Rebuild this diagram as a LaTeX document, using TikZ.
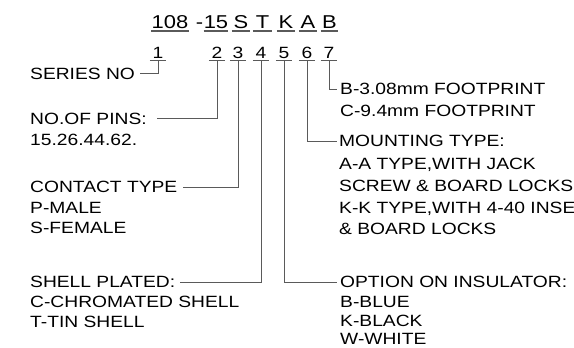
\documentclass[tikz,border=0pt]{standalone}
\usepackage{fontspec}
\setmainfont{Liberation Sans}[FakeStretch=1.18]
\definecolor{lncol}{HTML}{5A5A5A}
\begin{document}
\begin{tikzpicture}[x=1pt,y=-1pt,
  lbl/.style={anchor=west, inner sep=0pt, text height=11.7pt, text depth=0pt, font=\fontsize{16.3}{18}\selectfont, text=black},
  code/.style={anchor=base, inner sep=0pt, font=\fontsize{18.6}{20}\selectfont, text=black},
  num/.style={anchor=base, inner sep=0pt, font=\fontsize{16.3}{18}\selectfont, minimum width=16pt, text height=11.7pt, text depth=0pt, text=black},
  ln/.style={draw=lncol, line width=0.9pt},
  uln/.style={draw=lncol, line width=1.1pt}]
\useasboundingbox[fill=white] (0,0) rectangle (574,348);
% top code row
\node[code, minimum width=36pt] (c108) at (170,28) {108};
\node[code] (cdash) at (199.5,28) {-};
\node[code, minimum width=22pt] (c15) at (216,28) {15};
\node[code, minimum width=18pt] (cS) at (241,28) {S};
\node[code, minimum width=19pt] (cT) at (262.5,28) {T};
\node[code, minimum width=18pt] (cK) at (286,28) {K};
\node[code, minimum width=18pt] (cA) at (308,28) {A};
\node[code, minimum width=17pt] (cB) at (329.5,28) {B};
\foreach \n in {c108,c15,cS,cT,cK,cA,cB}
  \draw[uln] ([yshift=-3pt]\n.base west) -- ([yshift=-3pt]\n.base east);
% digit row
\node[num] (n1) at (158,58) {1};
\node[num] (n2) at (217,58) {2};
\node[num] (n3) at (238,58) {3};
\node[num] (n4) at (261,58) {4};
\node[num] (n5) at (284,58) {5};
\node[num] (n6) at (307,58) {6};
\node[num] (n7) at (329,58) {7};
\foreach \n in {n1,n2,n3,n4,n5,n6,n7}
  \draw[ln] ([yshift=-2.5pt]\n.south west) -- ([yshift=-2.5pt]\n.south east);
% left labels
\node[lbl] (ser) at (30,73.5) {SERIES NO};
\node[lbl] (pins) at (30,118.5) {NO.OF PINS:};
\node[lbl] (pinsv) at (30,140) {15.26.44.62.};
\node[lbl] (ctype) at (30,187) {CONTACT TYPE};
\node[lbl] (male) at (30,207.5) {P-MALE};
\node[lbl] (female) at (30,228) {S-FEMALE};
\node[lbl] (shell) at (30,282) {SHELL PLATED:};
\node[lbl] (chrom) at (30,302) {C-CHROMATED SHELL};
\node[lbl] (tin) at (30,322) {T-TIN SHELL};
% right labels
\node[lbl] (foot1) at (340,89) {B-3.08mm FOOTPRINT};
\node[lbl] (foot2) at (340,111) {C-9.4mm FOOTPRINT};
\node[lbl] (mount) at (339,141) {MOUNTING TYPE:};
\node[lbl] (mA) at (339,164) {A-A TYPE,WITH JACK};
\node[lbl] (mA2) at (339,186) {SCREW \& BOARD LOCKS};
\node[lbl] (mK) at (339,208) {K-K TYPE,WITH 4-40 INSE};
\node[lbl] (mK2) at (339,229) {\& BOARD LOCKS};
\node[lbl] (opt) at (340,282) {OPTION ON INSULATOR:};
\node[lbl] (blue) at (340,301.5) {B-BLUE};
\node[lbl] (black) at (340,320.5) {K-BLACK};
\node[lbl] (white) at (340,339) {W-WHITE};
% connectors
\draw[ln] ([yshift=-2.5pt]n1.south) |- ([xshift=5pt]ser.east);
\draw[ln] ([yshift=-2.5pt]n2.south) |- ([xshift=10pt]pins.east);
\draw[ln] ([yshift=-2.5pt]n3.south) |- ([xshift=5pt]ctype.east);
\draw[ln] ([yshift=-2.5pt]n4.south) |- ([xshift=5pt]shell.east);
\draw[ln] ([yshift=-2.5pt]n5.south) |- ([xshift=-3pt]opt.west);
\draw[ln] ([yshift=-2.5pt]n6.south) |- ([xshift=-2pt]mount.west);
\draw[ln] ([yshift=-2.5pt]n7.south) |- ([xshift=-3pt]foot1.west);
\end{tikzpicture}
\end{document}
